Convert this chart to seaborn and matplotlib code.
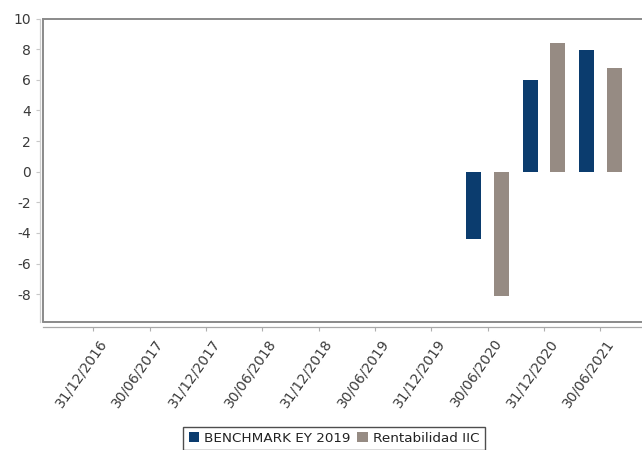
import numpy as np
import pandas as pd
import matplotlib
matplotlib.use("Agg")
import matplotlib.pyplot as plt
import matplotlib.transforms as mtransforms
import seaborn as sns

fechas = ["31/12/2016", "30/06/2017", "31/12/2017", "30/06/2018", "31/12/2018",
          "30/06/2019", "31/12/2019", "30/06/2020", "31/12/2020", "30/06/2021"]
series = ["BENCHMARK EY 2019", "Rentabilidad IIC"]
benchmark = [np.nan, np.nan, np.nan, np.nan, np.nan, np.nan, np.nan, -4.40, 5.98, 7.95]
rentabilidad = [np.nan, np.nan, np.nan, np.nan, np.nan, np.nan, np.nan, -8.08, 8.40, 6.76]
colores = ["#0b3c6e", "#968b83"]
yticks = [-8, -6, -4, -2, 0, 2, 4, 6, 8, 10]

df = pd.DataFrame({
    "fecha": fechas * 2,
    "serie": [series[0]] * len(fechas) + [series[1]] * len(fechas),
    "valor": benchmark + rentabilidad,
})

sns.set_theme(style="white")
plt.rcParams["font.family"] = ["DejaVu Sans"]

fig = plt.figure(figsize=(6.42, 4.5), dpi=100)
ax = fig.add_axes([43 / 642, 1 - 321.7 / 450, 1 - 43 / 642, (321.7 - 18.5) / 450])

sns.barplot(data=df, x="fecha", y="valor", hue="serie", order=fechas, hue_order=series,
            palette=dict(zip(series, colores)), saturation=1, errorbar=None,
            width=0.98, gap=0.457, linewidth=0, edgecolor="none", ax=ax)

ax.set_xlim(-0.893, 9.737)
ax.set_ylim(-9.79, 10)
ax.set_yticks(yticks)
ax.set_yticklabels([str(v) for v in yticks])
ax.set_xlabel("")
ax.set_ylabel("")

frame_col = "#8a8a8a"
ax.spines["right"].set_visible(False)
ax.spines["top"].set_color(frame_col)
ax.spines["top"].set_linewidth(1.4)
ax.spines["left"].set_position(("outward", 2.2))
ax.spines["left"].set_color("#d0d0d0")
ax.spines["left"].set_linewidth(0.9)
ax.spines["bottom"].set_position(("outward", 4.0))
ax.spines["bottom"].set_color("#a8a8a8")
ax.spines["bottom"].set_linewidth(0.9)
# frame borders (left & bottom) of the plot area
ax.plot([0, 0], [0, 1], transform=ax.transAxes, color=frame_col, lw=1.4,
        clip_on=False, zorder=5)
ax.plot([0, 1], [0, 0], transform=ax.transAxes, color=frame_col, lw=1.4,
        clip_on=False, zorder=5)

ax.tick_params(axis="y", which="major", left=True, length=3.0, width=0.8,
               color="#c8c8c8", pad=3.6, labelsize=10, labelcolor="#3a3a3a")
ax.tick_params(axis="x", which="major", bottom=True, length=3.0, width=0.8,
               color="#b0b0b0", pad=3.5, labelsize=10, labelcolor="#3a3a3a")

offset = mtransforms.ScaledTranslation(5 / 100, 0, fig.dpi_scale_trans)
for lab in ax.get_xticklabels():
    lab.set_rotation(55)
    lab.set_ha("right")
    lab.set_va("top")
    lab.set_rotation_mode("anchor")
    lab.set_transform(lab.get_transform() + offset)

handles, labels = ax.get_legend_handles_labels()
if ax.get_legend() is not None:
    ax.get_legend().remove()
leg = fig.legend(handles, labels, loc="upper center",
                 bbox_to_anchor=(334 / 642, 1 - 426.7 / 450), ncol=2,
                 frameon=True, fancybox=False, fontsize=9.7,
                 handlelength=0.78, handleheight=0.78, handletextpad=0.4,
                 columnspacing=0.45, borderpad=0.4, borderaxespad=0)
leg.get_frame().set_edgecolor("#222222")
leg.get_frame().set_linewidth(1.0)
for t in leg.get_texts():
    t.set_color("#222222")

fig.savefig("out.png", dpi=100)
